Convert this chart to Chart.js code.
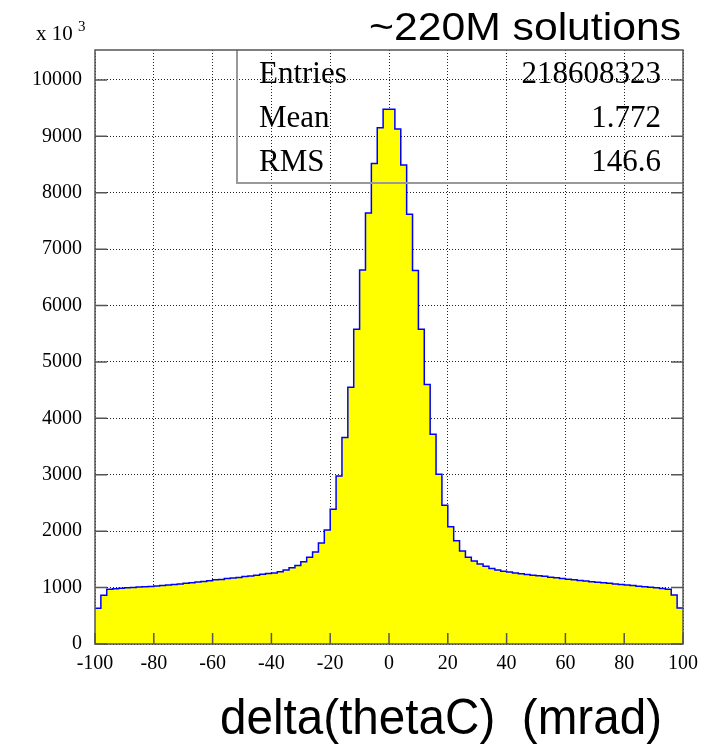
<!DOCTYPE html>
<html>
<head>
<meta charset="utf-8">
<script src="https://cdn.jsdelivr.net/npm/chart.js@4.4.0/dist/chart.umd.min.js"></script>
<style>
    body { margin: 0; background: #fff; }
    canvas { display: block; }
</style>
</head>
<body>
<canvas id="histo" width="713" height="749"></canvas>
<script>
// ===============================
// DATA
// ===============================

// 100 bins of 2 mrad, from -100 to 100
const xMin = -100;
const xMax = 100;
const binWidth = 2;

// counts per bin (x 10^3), bins -100 .. -2
const countsLeft = [
    635, 865, 970, 980, 990, 995, 1000, 1010, 1015, 1020,
    1030, 1035, 1045, 1055, 1065, 1075, 1085, 1100, 1110, 1120,
    1140, 1145, 1160, 1170, 1180, 1195, 1205, 1220, 1235, 1250,
    1260, 1280, 1310, 1350, 1390, 1460, 1540, 1630, 1790, 2020,
    2390, 2980, 3660, 4550, 5580, 6630, 7640, 8520, 9150, 9480
];

// counts per bin (x 10^3), bins 0 .. 98
const countsRight = [
    9480, 9130, 8490, 7620, 6620, 5580, 4600, 3720, 3010, 2460,
    2080, 1830, 1650, 1540, 1470, 1420, 1380, 1340, 1310, 1290,
    1275, 1260, 1245, 1230, 1220, 1210, 1200, 1185, 1175, 1160,
    1150, 1140, 1125, 1115, 1105, 1095, 1085, 1075, 1065, 1055,
    1045, 1035, 1025, 1015, 1005, 995, 985, 970, 870, 640
];

const xTicks = [-100, -80, -60, -40, -20, 0, 20, 40, 60, 80, 100];
const yTicks = [0, 1000, 2000, 3000, 4000, 5000, 6000, 7000, 8000, 9000, 10000];
const yMax = 10530;

const statLabels = ["Entries", "Mean", "RMS"];
const statValues = ["218608323", "1.772", "146.6"];

const titleText = "~220M solutions";
const xTitleText = "delta(thetaC)  (mrad)";

// ===============================
// BUILD STEP POINTS
// ===============================

const counts = countsLeft.concat(countsRight);
const points = counts.map((c, i) => ({ x: xMin + i * binWidth, y: c }));
points.push({ x: xMin + counts.length * binWidth, y: counts[counts.length - 1] });

// ===============================
// HELPERS
// ===============================

function drawText(ctx, text, x, y, font, align, width){
    ctx.font = font;
    const w = ctx.measureText(text).width;
    const sx = width ? width / w : 1;
    ctx.save();
    ctx.translate(x, y);
    ctx.scale(sx, 1);
    ctx.textAlign = align;
    ctx.textBaseline = "alphabetic";
    ctx.fillStyle = "#000";
    ctx.fillText(text, 0, 0);
    ctx.restore();
}

// frame, inward ticks, stats box and extra labels (ROOT look)
const rootStyle = {
    id: "rootStyle",
    afterDraw(chart){
        const ctx = chart.ctx;
        const a = chart.chartArea;
        const xs = chart.scales.x;
        const ys = chart.scales.y;

        ctx.save();

        // stats box
        ctx.strokeStyle = "#999";
        ctx.lineWidth = 2;
        ctx.beginPath();
        ctx.moveTo(237, a.top);
        ctx.lineTo(237, 183);
        ctx.lineTo(a.right, 183);
        ctx.stroke();

        // frame
        ctx.strokeStyle = "#555";
        ctx.lineWidth = 1.5;
        ctx.strokeRect(a.left, a.top, a.right - a.left, a.bottom - a.top);

        // tick marks pointing in
        ctx.beginPath();
        xs.ticks.forEach(t => {
            const px = xs.getPixelForValue(t.value);
            ctx.moveTo(px, a.bottom);
            ctx.lineTo(px, a.bottom - 11);
        });
        ys.ticks.forEach(t => {
            const py = ys.getPixelForValue(t.value);
            ctx.moveTo(a.left, py);
            ctx.lineTo(a.left + 12, py);
            ctx.moveTo(a.right, py);
            ctx.lineTo(a.right - 12, py);
        });
        ctx.stroke();
        ctx.restore();

        // stats text
        const rowBase = [83, 127, 171];
        statLabels.forEach((lab, i) => {
            drawText(ctx, lab, 259, rowBase[i], '31px "Liberation Serif"', "left");
            drawText(ctx, statValues[i], 661, rowBase[i], '31px "Liberation Serif"', "right");
        });

        // exponent label
        drawText(ctx, "x 10", 36, 40, '21px "Liberation Serif"', "left");
        drawText(ctx, "3", 78, 31, '15px "Liberation Serif"', "left");

        // titles
        drawText(ctx, titleText, 681, 40, '39px "Liberation Sans"', "right", 312);
        drawText(ctx, xTitleText, 441, 734, '50px "Liberation Sans"', "center", 442);
    }
};

// ===============================
// CHART
// ===============================

new Chart(document.getElementById("histo"), {
    type: "line",
    data: {
        datasets: [{
            data: points,
            stepped: true,
            borderColor: "#0000ff",
            borderWidth: 1.5,
            backgroundColor: "#ffff00",
            fill: "origin",
            pointRadius: 0,
            tension: 0
        }]
    },
    options: {
        responsive: false,
        animation: false,
        layout: {
            padding: { top: 50, right: 30, left: 0, bottom: 0 }
        },
        plugins: {
            legend: { display: false },
            tooltip: { enabled: false }
        },
        scales: {
            x: {
                type: "linear",
                min: xMin,
                max: xMax,
                z: 1,
                afterFit(s){ s.height = 105; },
                afterBuildTicks(s){ s.ticks = xTicks.map(v => ({ value: v })); },
                ticks: {
                    autoSkip: false,
                    maxRotation: 0,
                    padding: 8,
                    color: "#000",
                    font: { family: "Liberation Serif", size: 20 }
                },
                grid: {
                    color: "#222",
                    lineWidth: 1,
                    drawTicks: false
                },
                border: { display: false, dash: [1, 2] }
            },
            y: {
                type: "linear",
                min: 0,
                max: yMax,
                z: 1,
                afterFit(s){ s.width = 95; },
                afterBuildTicks(s){ s.ticks = yTicks.map(v => ({ value: v })); },
                ticks: {
                    autoSkip: false,
                    padding: 13,
                    color: "#000",
                    font: { family: "Liberation Serif", size: 20 },
                    callback: v => String(v)
                },
                grid: {
                    color: "#222",
                    lineWidth: 1,
                    drawTicks: false
                },
                border: { display: false, dash: [1, 2] }
            }
        }
    },
    plugins: [rootStyle]
});
</script>
</body>
</html>
